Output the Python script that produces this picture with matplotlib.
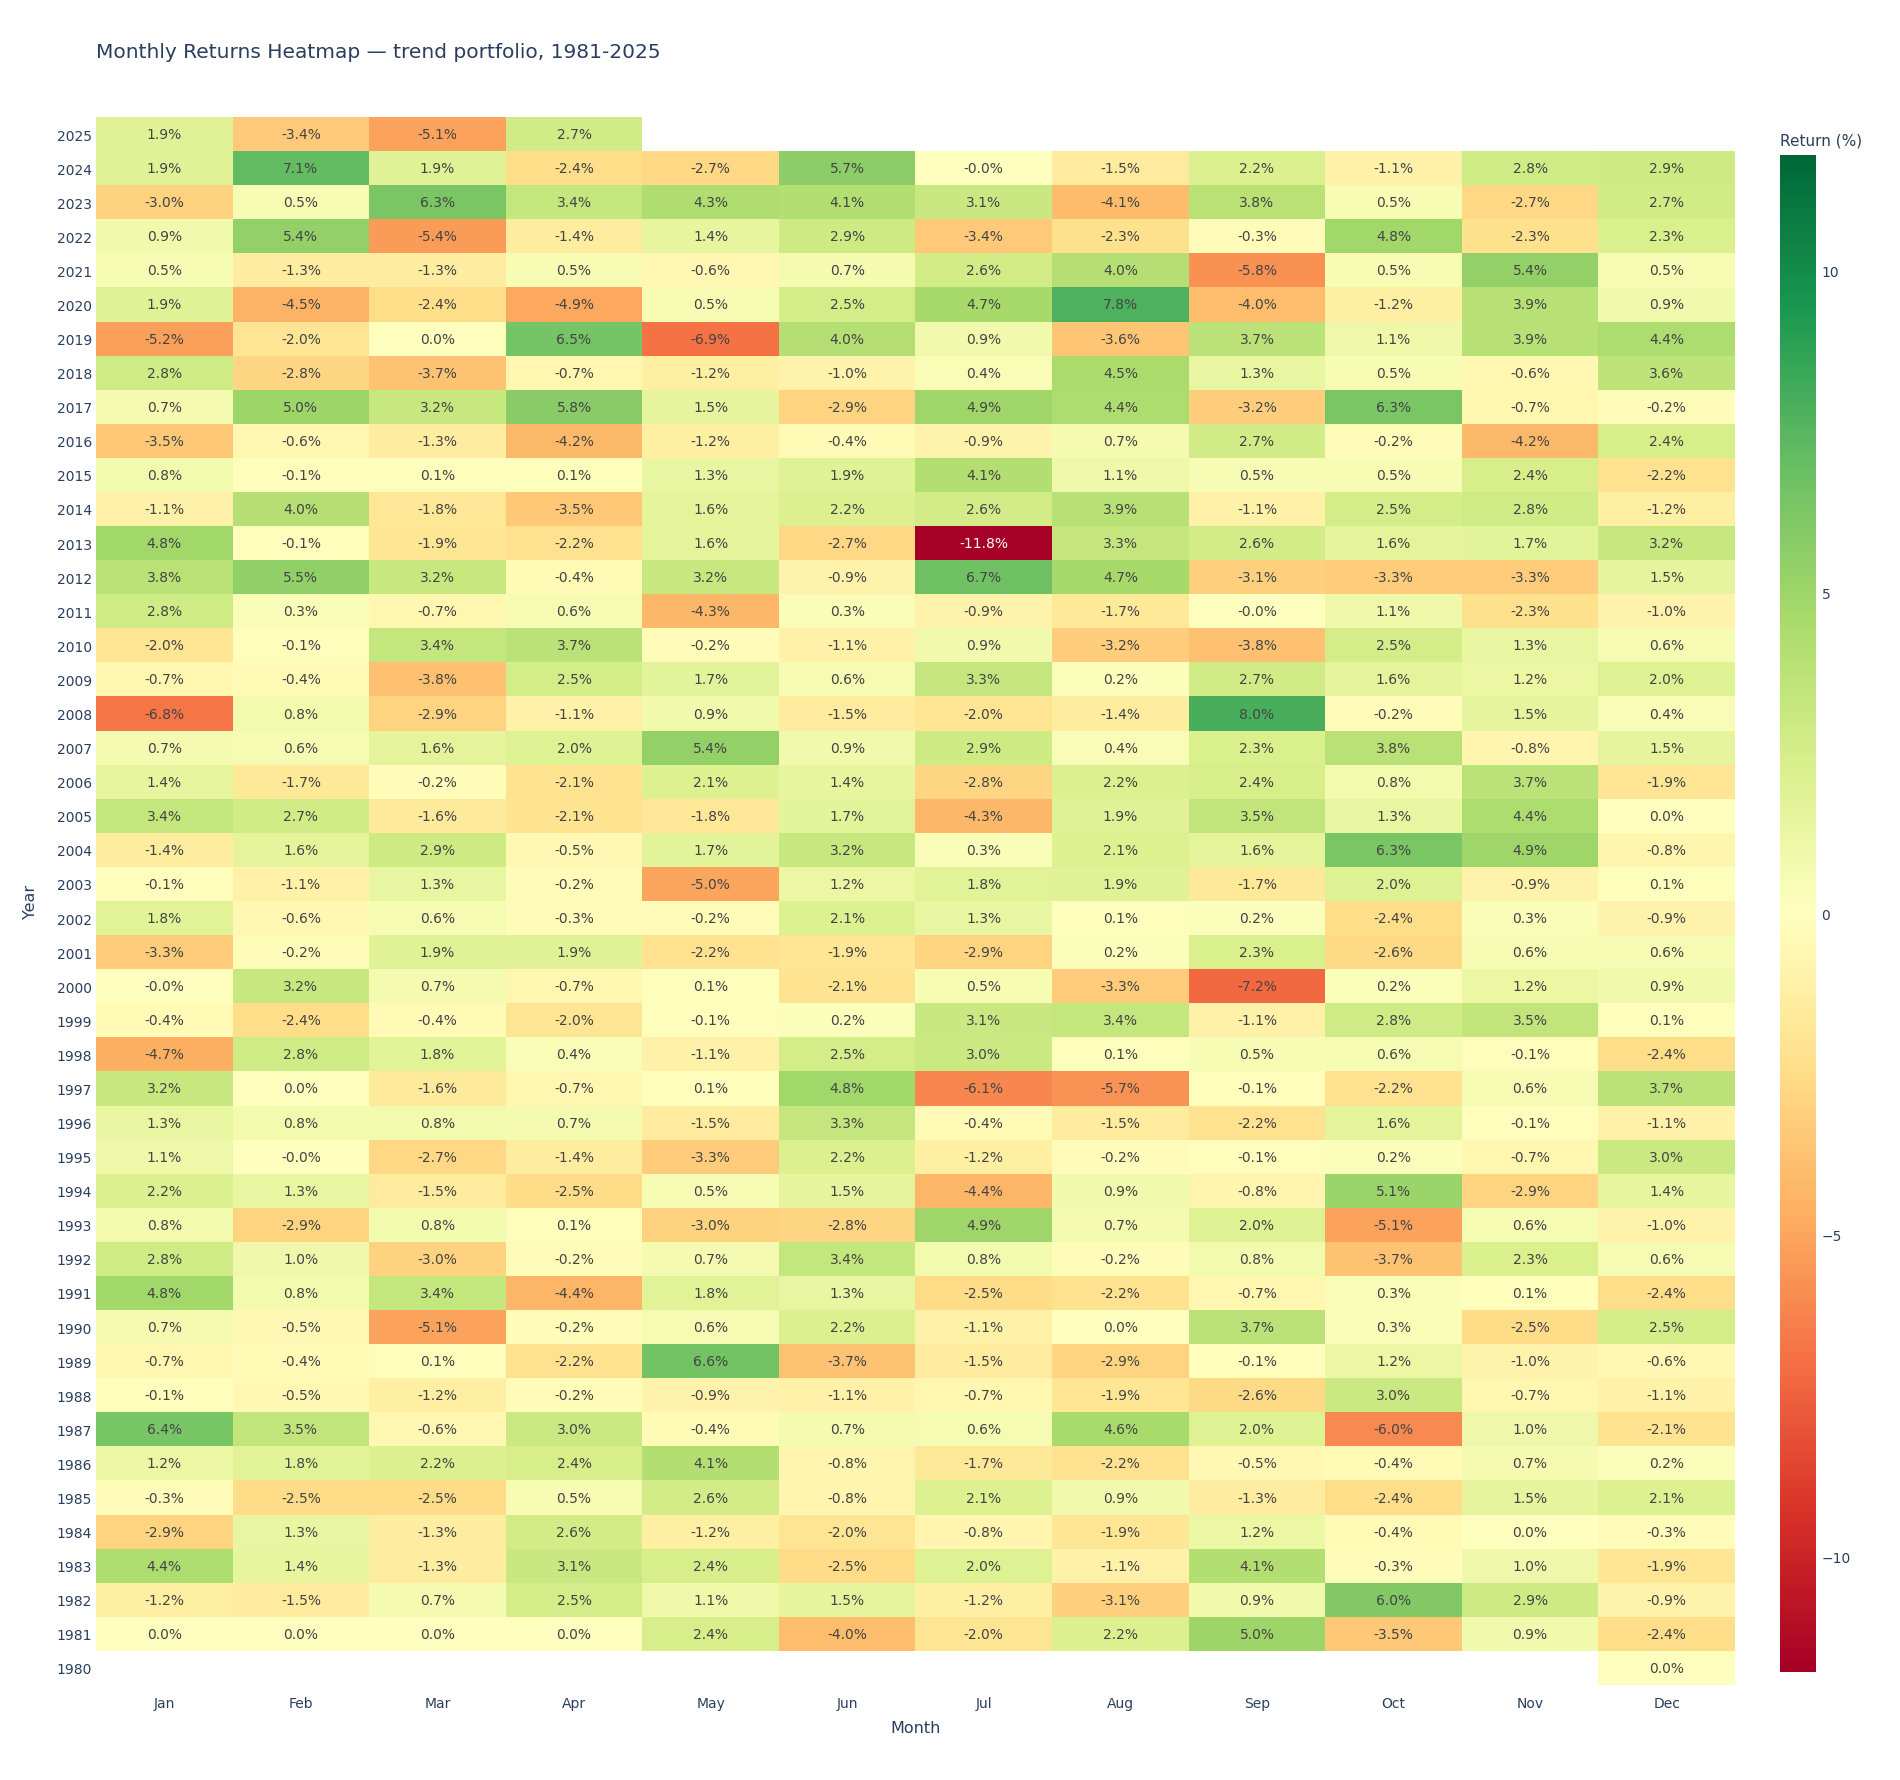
import numpy as np
import matplotlib
matplotlib.use("Agg")
import matplotlib.pyplot as plt

plt.rcParams['font.family'] = ['DejaVu Sans']

months = ["Jan", "Feb", "Mar", "Apr", "May", "Jun",
          "Jul", "Aug", "Sep", "Oct", "Nov", "Dec"]
years = list(range(2025, 1979, -1))

nan = np.nan
# monthly returns in %, one row per year, newest first
returns = [
    [1.9, -3.4, -5.1, 2.7, nan, nan, nan, nan, nan, nan, nan, nan],   # 2025
    [1.9, 7.1, 1.9, -2.4, -2.7, 5.7, -0.0, -1.5, 2.2, -1.1, 2.8, 2.9],
    [-3.0, 0.5, 6.3, 3.4, 4.3, 4.1, 3.1, -4.1, 3.8, 0.5, -2.7, 2.7],
    [0.9, 5.4, -5.4, -1.4, 1.4, 2.9, -3.4, -2.3, -0.3, 4.8, -2.3, 2.3],
    [0.5, -1.3, -1.3, 0.5, -0.6, 0.7, 2.6, 4.0, -5.8, 0.5, 5.4, 0.5],
    [1.9, -4.5, -2.4, -4.9, 0.5, 2.5, 4.7, 7.8, -4.0, -1.2, 3.9, 0.9],   # 2020
    [-5.2, -2.0, 0.0, 6.5, -6.9, 4.0, 0.9, -3.6, 3.7, 1.1, 3.9, 4.4],
    [2.8, -2.8, -3.7, -0.7, -1.2, -1.0, 0.4, 4.5, 1.3, 0.5, -0.6, 3.6],
    [0.7, 5.0, 3.2, 5.8, 1.5, -2.9, 4.9, 4.4, -3.2, 6.3, -0.7, -0.2],
    [-3.5, -0.6, -1.3, -4.2, -1.2, -0.4, -0.9, 0.7, 2.7, -0.2, -4.2, 2.4],
    [0.8, -0.1, 0.1, 0.1, 1.3, 1.9, 4.1, 1.1, 0.5, 0.5, 2.4, -2.2],     # 2015
    [-1.1, 4.0, -1.8, -3.5, 1.6, 2.2, 2.6, 3.9, -1.1, 2.5, 2.8, -1.2],
    [4.8, -0.1, -1.9, -2.2, 1.6, -2.7, -11.8, 3.3, 2.6, 1.6, 1.7, 3.2],
    [3.8, 5.5, 3.2, -0.4, 3.2, -0.9, 6.7, 4.7, -3.1, -3.3, -3.3, 1.5],
    [2.8, 0.3, -0.7, 0.6, -4.3, 0.3, -0.9, -1.7, -0.0, 1.1, -2.3, -1.0],
    [-2.0, -0.1, 3.4, 3.7, -0.2, -1.1, 0.9, -3.2, -3.8, 2.5, 1.3, 0.6],  # 2010
    [-0.7, -0.4, -3.8, 2.5, 1.7, 0.6, 3.3, 0.2, 2.7, 1.6, 1.2, 2.0],
    [-6.8, 0.8, -2.9, -1.1, 0.9, -1.5, -2.0, -1.4, 8.0, -0.2, 1.5, 0.4],
    [0.7, 0.6, 1.6, 2.0, 5.4, 0.9, 2.9, 0.4, 2.3, 3.8, -0.8, 1.5],
    [1.4, -1.7, -0.2, -2.1, 2.1, 1.4, -2.8, 2.2, 2.4, 0.8, 3.7, -1.9],
    [3.4, 2.7, -1.6, -2.1, -1.8, 1.7, -4.3, 1.9, 3.5, 1.3, 4.4, 0.0],    # 2005
    [-1.4, 1.6, 2.9, -0.5, 1.7, 3.2, 0.3, 2.1, 1.6, 6.3, 4.9, -0.8],
    [-0.1, -1.1, 1.3, -0.2, -5.0, 1.2, 1.8, 1.9, -1.7, 2.0, -0.9, 0.1],
    [1.8, -0.6, 0.6, -0.3, -0.2, 2.1, 1.3, 0.1, 0.2, -2.4, 0.3, -0.9],
    [-3.3, -0.2, 1.9, 1.9, -2.2, -1.9, -2.9, 0.2, 2.3, -2.6, 0.6, 0.6],
    [-0.0, 3.2, 0.7, -0.7, 0.1, -2.1, 0.5, -3.3, -7.2, 0.2, 1.2, 0.9],   # 2000
    [-0.4, -2.4, -0.4, -2.0, -0.1, 0.2, 3.1, 3.4, -1.1, 2.8, 3.5, 0.1],
    [-4.7, 2.8, 1.8, 0.4, -1.1, 2.5, 3.0, 0.1, 0.5, 0.6, -0.1, -2.4],
    [3.2, 0.0, -1.6, -0.7, 0.1, 4.8, -6.1, -5.7, -0.1, -2.2, 0.6, 3.7],
    [1.3, 0.8, 0.8, 0.7, -1.5, 3.3, -0.4, -1.5, -2.2, 1.6, -0.1, -1.1],
    [1.1, -0.0, -2.7, -1.4, -3.3, 2.2, -1.2, -0.2, -0.1, 0.2, -0.7, 3.0],  # 1995
    [2.2, 1.3, -1.5, -2.5, 0.5, 1.5, -4.4, 0.9, -0.8, 5.1, -2.9, 1.4],
    [0.8, -2.9, 0.8, 0.1, -3.0, -2.8, 4.9, 0.7, 2.0, -5.1, 0.6, -1.0],
    [2.8, 1.0, -3.0, -0.2, 0.7, 3.4, 0.8, -0.2, 0.8, -3.7, 2.3, 0.6],
    [4.8, 0.8, 3.4, -4.4, 1.8, 1.3, -2.5, -2.2, -0.7, 0.3, 0.1, -2.4],
    [0.7, -0.5, -5.1, -0.2, 0.6, 2.2, -1.1, 0.0, 3.7, 0.3, -2.5, 2.5],   # 1990
    [-0.7, -0.4, 0.1, -2.2, 6.6, -3.7, -1.5, -2.9, -0.1, 1.2, -1.0, -0.6],
    [-0.1, -0.5, -1.2, -0.2, -0.9, -1.1, -0.7, -1.9, -2.6, 3.0, -0.7, -1.1],
    [6.4, 3.5, -0.6, 3.0, -0.4, 0.7, 0.6, 4.6, 2.0, -6.0, 1.0, -2.1],
    [1.2, 1.8, 2.2, 2.4, 4.1, -0.8, -1.7, -2.2, -0.5, -0.4, 0.7, 0.2],
    [-0.3, -2.5, -2.5, 0.5, 2.6, -0.8, 2.1, 0.9, -1.3, -2.4, 1.5, 2.1],  # 1985
    [-2.9, 1.3, -1.3, 2.6, -1.2, -2.0, -0.8, -1.9, 1.2, -0.4, 0.0, -0.3],
    [4.4, 1.4, -1.3, 3.1, 2.4, -2.5, 2.0, -1.1, 4.1, -0.3, 1.0, -1.9],
    [-1.2, -1.5, 0.7, 2.5, 1.1, 1.5, -1.2, -3.1, 0.9, 6.0, 2.9, -0.9],
    [0.0, 0.0, 0.0, 0.0, 2.4, -4.0, -2.0, 2.2, 5.0, -3.5, 0.9, -2.4],
    [nan, nan, nan, nan, nan, nan, nan, nan, nan, nan, nan, 0.0],        # 1980
]

title = "Monthly Returns Heatmap \u2014 trend portfolio, 1981-2025"
axis_color = "#2a3f5f"

z = np.ma.masked_invalid(np.array(returns, dtype=float))
zmax = np.nanmax(np.abs(np.array(returns, dtype=float)))

W, H = 1900, 1781
fig = plt.figure(figsize=(W / 100, H / 100), dpi=100)
ax = fig.add_axes([96 / W, 1 - 1686 / H, (1735 - 96) / W, (1686 - 118) / H])

cmap = plt.get_cmap("RdYlGn")
norm = plt.Normalize(-zmax, zmax)
x_edges = np.arange(len(months) + 1) - 0.5
y_vals = np.array(years)
y_edges = np.concatenate([y_vals + 0.5, [y_vals[-1] - 0.5]])
mesh = ax.pcolormesh(x_edges, y_edges, z, cmap=cmap, norm=norm, shading="flat")

# cell labels
for i, yr in enumerate(years):
    for j in range(len(months)):
        v = returns[i][j]
        if np.isnan(v):
            continue
        r, g, b, _ = cmap(norm(v))
        lum = 0.299 * r + 0.587 * g + 0.114 * b
        col = "white" if lum < 0.4 else "#444444"
        ax.text(j, yr, f"{v:.1f}%", ha="center", va="center",
                fontsize=10, color=col)

ax.set_xlim(-0.5, len(months) - 0.5)
ax.set_ylim(years[-1] - 0.5, years[0] + 0.5)
ax.set_xticks(range(len(months)))
ax.set_xticklabels(months)
ax.set_yticks(years)
ax.set_yticklabels([str(y) for y in years])
ax.tick_params(length=0, labelsize=10, labelcolor=axis_color)
ax.tick_params(axis="x", pad=8)
ax.tick_params(axis="y", pad=3)
for s in ax.spines.values():
    s.set_visible(False)

ax.set_xlabel("Month", fontsize=11.5, color=axis_color, labelpad=7)
ax.set_ylabel("Year", fontsize=11.5, color=axis_color, labelpad=13)

fig.text(96 / W, 1 - 52 / H, title, fontsize=14.5, color=axis_color,
         ha="left", va="center")

# colorbar
cax = fig.add_axes([1780 / W, 1 - 1673 / H, 36 / W, (1673 - 156) / H])
cb = fig.colorbar(mesh, cax=cax, ticks=[-10, -5, 0, 5, 10])
cb.outline.set_visible(False)
cax.tick_params(length=0, labelsize=10, labelcolor=axis_color, pad=4)
fig.text(1780 / W, 1 - 141 / H, "Return (%)", fontsize=11, color=axis_color,
         ha="left", va="center")

fig.savefig("out.png", dpi=100, facecolor="white")
